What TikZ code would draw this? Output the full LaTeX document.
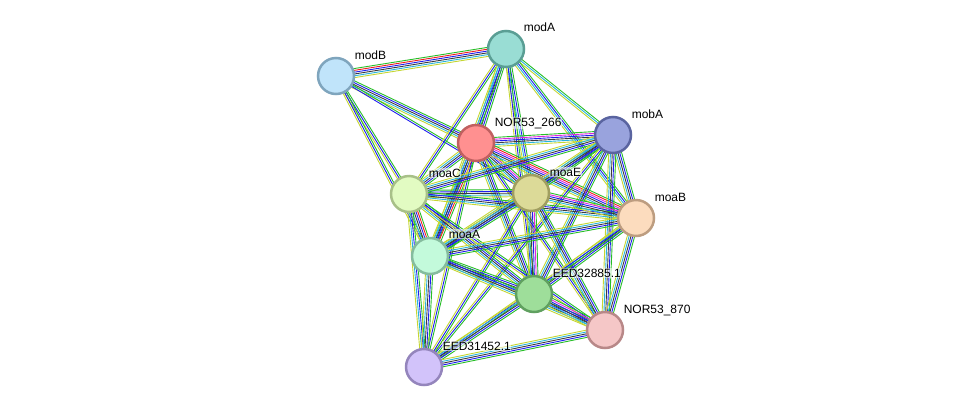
\documentclass[tikz,border=0pt]{standalone}
\usepackage{fontspec}
\setmainfont{Liberation Sans}
\usetikzlibrary{calc}
\pgfdeclarelayer{bg}
\pgfsetlayers{bg,main}
\definecolor{eT}{RGB}{197,214,50}
\definecolor{eD}{RGB}{40,180,220}
\definecolor{eK}{RGB}{60,60,60}
\definecolor{eB}{RGB}{30,30,240}
\definecolor{eM}{RGB}{220,40,220}
\definecolor{eR}{RGB}{240,30,30}
\definecolor{eG}{RGB}{40,190,40}
\newcommand\sedge[3]{%
  \foreach \ecol [count=\n] in {#3}{\xdef\nlines{\n}}%
  \foreach \ecol [count=\i] in {#3}{%
    \pgfmathsetmacro\eoff{(\i-(\nlines+1)/2)*1.8}%
    \draw[draw=\ecol] ($(#1)!\eoff pt!90:(#2)$) -- ($(#2)!\eoff pt!-90:(#1)$);
  }}
\tikzset{
  prot/.style={circle, minimum size=36pt, inner sep=0pt, line width=2.5pt},
  lab/.style={anchor=base west, font=\fontsize{12}{14}\selectfont, fill=white, fill opacity=0.55, text opacity=1, inner sep=0.6pt},
  elin/.style={line width=0.9pt}
}
\begin{document}
\begin{tikzpicture}[x=1pt,y=-1pt]
\useasboundingbox (0,0) rectangle (976,413);
% nodes
\node[prot, fill={rgb,255:red,153;green,221;blue,212}, draw={rgb,255:red,90;green,158;blue,148}] (modA) at (506,49) {};
\node[prot, fill={rgb,255:red,192;green,228;blue,250}, draw={rgb,255:red,127;green,165;blue,189}] (modB) at (336,76) {};
\node[prot, fill={rgb,255:red,255;green,144;blue,144}, draw={rgb,255:red,192;green,96;blue,96}] (N2) at (476,143) {};
\node[prot, fill={rgb,255:red,153;green,163;blue,221}, draw={rgb,255:red,90;green,100;blue,160}] (mobA) at (613,135) {};
\node[prot, fill={rgb,255:red,226;green,251;blue,194}, draw={rgb,255:red,168;green,192;blue,136}] (moaC) at (409,194) {};
\node[prot, fill={rgb,255:red,220;green,218;blue,152}, draw={rgb,255:red,160;green,158;blue,96}] (moaE) at (531,193) {};
\node[prot, fill={rgb,255:red,252;green,220;blue,190}, draw={rgb,255:red,189;green,157;blue,128}] (moaB) at (636,218) {};
\node[prot, fill={rgb,255:red,195;green,250;blue,219}, draw={rgb,255:red,133;green,188;blue,158}] (moaA) at (430,256) {};
\node[prot, fill={rgb,255:red,158;green,222;blue,154}, draw={rgb,255:red,96;green,160;blue,96}] (EX) at (534,294) {};
\node[prot, fill={rgb,255:red,245;green,199;blue,199}, draw={rgb,255:red,184;green,136;blue,136}] (N8) at (605,330) {};
\node[prot, fill={rgb,255:red,210;green,195;blue,250}, draw={rgb,255:red,148;green,133;blue,188}] (EY) at (424,367) {};
% labels
\node[lab] (lmodA) at (523,31.5) {modA};
\node[lab] (lmodB) at (354,59) {modB};
\node[lab] (lN2) at (494,126) {NOR53\_266};
\node[lab] (lmobA) at (631,118) {mobA};
\node[lab] (lmoaC) at (428,177) {moaC};
\node[lab] (lmoaE) at (549,176) {moaE};
\node[lab] (lmoaB) at (654,201.5) {moaB};
\node[lab] (lmoaA) at (448,238) {moaA};
\node[lab] (lEX) at (552,277) {EED32885.1};
\node[lab] (lN8) at (623,313) {NOR53\_870};
\node[lab] (lEY) at (442,350) {EED31452.1};
% edges
\begin{pgfonlayer}{bg}
\begin{scope}[elin]
\sedge{modB}{modA}{eT,eD,eK,eB,eR,eG}
\sedge{modB}{N2}{eT,eD,eK,eB,eG}
\sedge{modB}{moaC}{eT,eB,eG}
\sedge{modB}{moaA}{eT,eB,eG}
\sedge{modB}{moaE}{eB,eG}
\sedge{modA}{N2}{eT,eD,eK,eB,eG}
\sedge{modA}{mobA}{eT,eD,eG}
\sedge{modA}{moaB}{eT,eD,eB,eG}
\sedge{modA}{moaE}{eT,eD,eB,eG}
\sedge{modA}{moaC}{eT,eB,eG}
\sedge{modA}{moaA}{eT,eD,eB,eG}
\sedge{modA}{EX}{eT,eB,eG}
\sedge{N2}{mobA}{eT,eD,eK,eB,eM,eG}
\sedge{N2}{moaC}{eT,eD,eK,eB,eG}
\sedge{N2}{moaE}{eT,eD,eK,eB,eM,eG}
\sedge{N2}{moaB}{eT,eD,eK,eB,eM,eR,eG}
\sedge{N2}{moaA}{eT,eD,eK,eB,eR,eG}
\sedge{N2}{EX}{eT,eD,eK,eB,eG}
\sedge{N2}{N8}{eT,eB,eG}
\sedge{N2}{EY}{eT,eB,eG}
\sedge{mobA}{moaC}{eT,eD,eK,eB,eG}
\sedge{mobA}{moaE}{eT,eD,eK,eB,eG}
\sedge{mobA}{moaB}{eT,eD,eK,eB,eG}
\sedge{mobA}{moaA}{eT,eD,eK,eB,eG}
\sedge{mobA}{EX}{eT,eD,eK,eB,eG}
\sedge{mobA}{N8}{eT,eD,eK,eB,eG}
\sedge{mobA}{EY}{eT,eB,eG}
\sedge{moaC}{moaE}{eT,eD,eK,eB,eG}
\sedge{moaC}{moaB}{eT,eD,eK,eB,eG}
\sedge{moaC}{moaA}{eT,eD,eK,eB,eR,eG}
\sedge{moaC}{EX}{eT,eD,eK,eB,eG}
\sedge{moaC}{N8}{eT,eB,eG}
\sedge{moaC}{EY}{eT,eD,eB,eG}
\sedge{moaE}{moaB}{eT,eD,eK,eB,eM,eG}
\sedge{moaE}{moaA}{eT,eD,eK,eB,eG}
\sedge{moaE}{EX}{eT,eD,eK,eB,eM,eG}
\sedge{moaE}{N8}{eT,eD,eK,eB,eG}
\sedge{moaE}{EY}{eT,eB,eG}
\sedge{moaB}{moaA}{eT,eD,eK,eB,eG}
\sedge{moaB}{EX}{eT,eD,eK,eB,eG}
\sedge{moaB}{N8}{eT,eD,eK,eB,eG}
\sedge{moaB}{EY}{eT,eB,eG}
\sedge{moaA}{EX}{eT,eD,eK,eB,eG}
\sedge{moaA}{N8}{eT,eD,eK,eB,eG}
\sedge{moaA}{EY}{eT,eD,eK,eB,eG}
\sedge{EX}{N8}{eT,eD,eK,eB,eM,eG}
\sedge{EX}{EY}{eT,eD,eK,eB,eG}
\sedge{N8}{EY}{eT,eD,eK,eB,eG}
\end{scope}
\end{pgfonlayer}
\end{tikzpicture}
\end{document}
